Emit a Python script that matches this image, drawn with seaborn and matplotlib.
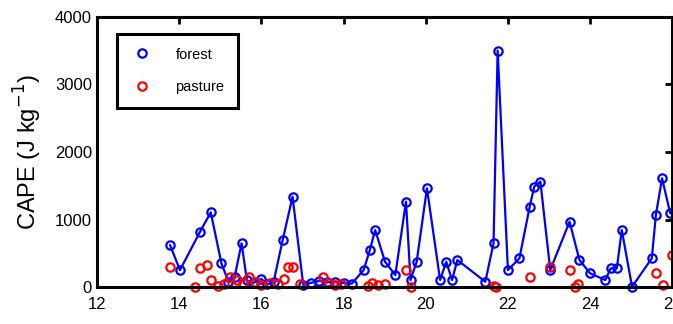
import numpy as np
import pandas as pd
import matplotlib
matplotlib.use("Agg")
import matplotlib.pyplot as plt
from matplotlib.lines import Line2D
import seaborn as sns

# forest CAPE (J/kg) vs local time
forest_time = [13.78, 14.02, 14.51, 14.77, 15.03, 15.2, 15.35, 15.52, 15.65, 15.8,
               16.0, 16.15, 16.3, 16.52, 16.76, 17.02, 17.2, 17.4, 17.6, 17.8,
               18.0, 18.2, 18.49, 18.64, 18.77, 19.01, 19.26, 19.52, 19.63, 19.78,
               20.03, 20.35, 20.5, 20.64, 20.77, 21.45, 21.65, 21.75, 22.0, 22.28,
               22.53, 22.64, 22.79, 23.03, 23.5, 23.74, 24.0, 24.37, 24.5, 24.65,
               24.77, 25.02, 25.5, 25.6, 25.75, 25.95]
forest_cape = [622, 250, 820, 1106, 350, 80, 150, 647, 100, 60,
               120, 40, 80, 696, 1338, 30, 60, 90, 70, 80,
               60, 50, 252, 548, 844, 375, 178, 1264, 104, 375,
               1462, 104, 375, 104, 400, 79, 647, 3501, 252, 425,
               1190, 1486, 1560, 252, 968, 400, 203, 104, 277, 277,
               844, 5, 425, 1067, 1610, 1091]

# pasture CAPE
pasture_time = [13.78, 14.39, 14.51, 14.67, 14.77, 14.95, 15.1, 15.25, 15.4, 15.55,
                15.7, 15.85, 16.0, 16.2, 16.4, 16.55, 16.66, 16.78, 16.95, 17.51,
                17.65, 17.8, 17.95, 18.6, 18.7, 18.85, 19.0, 19.52, 19.63, 21.65,
                21.72, 22.53, 23.03, 23.5, 23.62, 23.7, 25.6, 25.78, 25.99]
pasture_cape = [300, 0, 277, 326, 104, 20, 50, 150, 100, 60,
                150, 80, 30, 60, 40, 120, 300, 300, 50, 153,
                60, 30, 40, 20, 60, 30, 40, 252, 0, 20,
                0, 153, 300, 252, 0, 50, 203, 30, 474]

xticks = [12, 14, 16, 18, 20, 22, 24, 26]
yticks = [0, 1000, 2000, 3000, 4000]

forest = pd.DataFrame({"time": forest_time, "cape": forest_cape})
pasture = pd.DataFrame({"time": pasture_time, "cape": pasture_cape})

sns.set_style("white")
plt.rcParams["font.family"] = ["Liberation Sans", "DejaVu Sans"]
plt.rcParams["text.color"] = "black"
plt.rcParams["axes.labelcolor"] = "black"
plt.rcParams["xtick.color"] = "black"
plt.rcParams["ytick.color"] = "black"

fig = plt.figure(figsize=(6.73, 3.24), dpi=100)
ax = fig.add_axes([0.144, 0.114, 0.855, 0.834])

mk = dict(marker="o", markersize=6, markerfacecolor="none", markeredgewidth=1.6)
sns.lineplot(data=forest, x="time", y="cape", ax=ax, color="#0000ff", lw=1.6,
             markeredgecolor="#0000ff", sort=False, clip_on=False, **mk)
sns.lineplot(data=pasture, x="time", y="cape", ax=ax, color="#ff0000", linestyle="",
             markeredgecolor="#ff0000", sort=False, clip_on=False, **mk)

ax.set_xlim(12, 26)
ax.set_ylim(0, 4000)
ax.set_xticks(xticks)
ax.set_yticks(yticks)
ax.set_xlabel("")
ax.set_ylabel("CAPE (J kg$^{-1}$)", fontsize=17, labelpad=8)
ax.tick_params(direction="in", length=5, width=2, top=True, right=True,
               labelsize=12)
ax.tick_params(axis="x", pad=7)
for s in ax.spines.values():
    s.set_color("black")
    s.set_linewidth(2.2)

handles = [
    Line2D([], [], linestyle="", markeredgecolor="#0000ff", label="forest", **mk),
    Line2D([], [], linestyle="", markeredgecolor="#ff0000", label="pasture", **mk),
]
leg = ax.legend(handles=handles, loc="upper left", bbox_to_anchor=(0.035, 0.935),
                fontsize=10.5, frameon=True, fancybox=False, framealpha=1,
                labelspacing=1.3, borderpad=0.9, handlelength=1.6,
                handletextpad=1.5, borderaxespad=0)
leg.get_frame().set_edgecolor("black")
leg.get_frame().set_linewidth(2.2)

fig.savefig("out.png", dpi=100)
